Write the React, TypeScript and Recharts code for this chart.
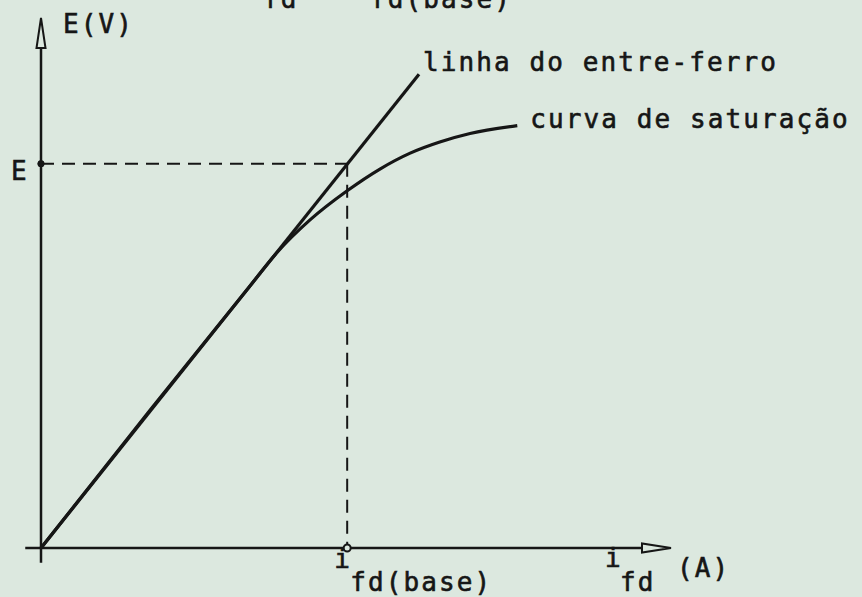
import { ComposedChart, Line, XAxis, YAxis, ReferenceLine, ReferenceDot, Customized } from "recharts"

// operating point
const ifdBase = 4.86
const eRated = 7.25

// air-gap line (straight, through the origin)
const airGapX = [0, 6.0]
const airGapY = [0, 8.94]

// open-circuit saturation curve
const satX = [0, 1.73, 3.32, 3.75, 4.27, 4.86, 5.38, 5.86, 6.33, 6.81, 7.56]
const satY = [0, 2.6, 4.95, 5.58, 6.19, 6.74, 7.15, 7.45, 7.66, 7.82, 7.97]

// axis shafts (the arrowheads sit at axisEnd)
const xShaftX = [-0.25, 9.54]
const yShaftY = [-0.28, 9.43]
const axisEnd = 10

const ink = "#161616"
const paper = "#dce8df"
const font = '"DejaVu Sans Mono", "Liberation Mono", monospace'

const toPoints = (xs: number[], ys: number[]) => xs.map((x, i) => ({ x, y: ys[i] }))

const airGap = toPoints(airGapX, airGapY)
const saturation = toPoints(satX, satY)
const xShaft = toPoints(xShaftX, [0, 0])
const yShaft = toPoints([0, 0], yShaftY)

const Txt = ({ x, y, children }: any) => (
  <text
    x={x}
    y={y}
    fill={ink}
    stroke={ink}
    strokeWidth={0.6}
    fontFamily={font}
    fontSize={26}
    letterSpacing={2.1}
  >
    {children}
  </text>
)

// cut-off line of the preceding paragraph
const TopLine = () => (
  <g>
    <Txt x={263} y={8}>fd</Txt>
    <Txt x={370} y={8}>fd(base)</Txt>
  </g>
)

export default function App() {
  return (
    <div style={{ position: "absolute", left: 0, top: 0, width: 862, height: 597, background: paper }}>
      <ComposedChart width={862} height={597} margin={{ top: 18, right: 191, bottom: 22.5, left: 9.5 }}>
        <XAxis type="number" dataKey="x" domain={[-0.5, 10]} hide allowDataOverflow />
        <YAxis type="number" dataKey="y" domain={[-0.5, 10]} hide allowDataOverflow />

        {/* axes */}
        <Line data={xShaft} dataKey="y" type="linear" stroke={ink} strokeWidth={2.5} dot={false} isAnimationActive={false} />
        <Line data={yShaft} dataKey="y" type="linear" stroke={ink} strokeWidth={2.5} dot={false} isAnimationActive={false} />
        <ReferenceDot
          x={0}
          y={axisEnd}
          shape={(p: any) => (
            <polygon
              points={`${p.cx},${p.cy} ${p.cx - 4.5},${p.cy + 30} ${p.cx + 4.5},${p.cy + 30}`}
              fill={paper}
              stroke={ink}
              strokeWidth={2}
            />
          )}
        />
        <ReferenceDot
          x={axisEnd}
          y={0}
          shape={(p: any) => (
            <polygon
              points={`${p.cx},${p.cy} ${p.cx - 29},${p.cy - 4.5} ${p.cx - 29},${p.cy + 4.5}`}
              fill={paper}
              stroke={ink}
              strokeWidth={2}
            />
          )}
        />

        {/* projections of the operating point */}
        <ReferenceLine
          segment={[{ x: 0, y: eRated }, { x: ifdBase, y: eRated }]}
          stroke={ink}
          strokeWidth={2}
          strokeDasharray="13 8"
        />
        <ReferenceLine
          segment={[{ x: ifdBase, y: eRated }, { x: ifdBase, y: 0 }]}
          stroke={ink}
          strokeWidth={2}
          strokeDasharray="13 8"
        />

        <Line data={airGap} dataKey="y" type="linear" stroke={ink} strokeWidth={3.2} dot={false} isAnimationActive={false} />
        <Line data={saturation} dataKey="y" type="monotone" stroke={ink} strokeWidth={3.2} dot={false} isAnimationActive={false} />

        <ReferenceDot x={0} y={eRated} r={3.2} fill={ink} stroke={ink} />
        <ReferenceDot x={ifdBase} y={0} r={3.5} fill={paper} stroke={ink} strokeWidth={2} />

        {/* labels */}
        <ReferenceDot
          x={0}
          y={axisEnd}
          shape={(p: any) => <Txt x={p.cx + 22} y={p.cy + 15}>E(V)</Txt>}
        />
        <ReferenceDot
          x={0}
          y={eRated}
          shape={(p: any) => <Txt x={p.cx - 30} y={p.cy + 16}>E</Txt>}
        />
        <ReferenceDot
          x={airGapX[1]}
          y={airGapY[1]}
          shape={(p: any) => <Txt x={p.cx + 4} y={p.cy - 3}>linha do entre-ferro</Txt>}
        />
        <ReferenceDot
          x={satX[satX.length - 1]}
          y={satY[satY.length - 1]}
          shape={(p: any) => <Txt x={p.cx + 13} y={p.cy + 2}>curva de saturação</Txt>}
        />
        <ReferenceDot
          x={ifdBase}
          y={0}
          shape={(p: any) => (
            <g>
              <Txt x={p.cx - 13} y={p.cy + 20}>i</Txt>
              <Txt x={p.cx + 3} y={p.cy + 43}>fd(base)</Txt>
            </g>
          )}
        />
        <ReferenceDot
          x={axisEnd}
          y={0}
          shape={(p: any) => (
            <g>
              <Txt x={p.cx - 66} y={p.cy + 19}>i</Txt>
              <Txt x={p.cx - 51} y={p.cy + 43}>fd</Txt>
              <Txt x={p.cx + 6} y={p.cy + 29}>(A)</Txt>
            </g>
          )}
        />

        <Customized component={TopLine} />
      </ComposedChart>
    </div>
  )
}
